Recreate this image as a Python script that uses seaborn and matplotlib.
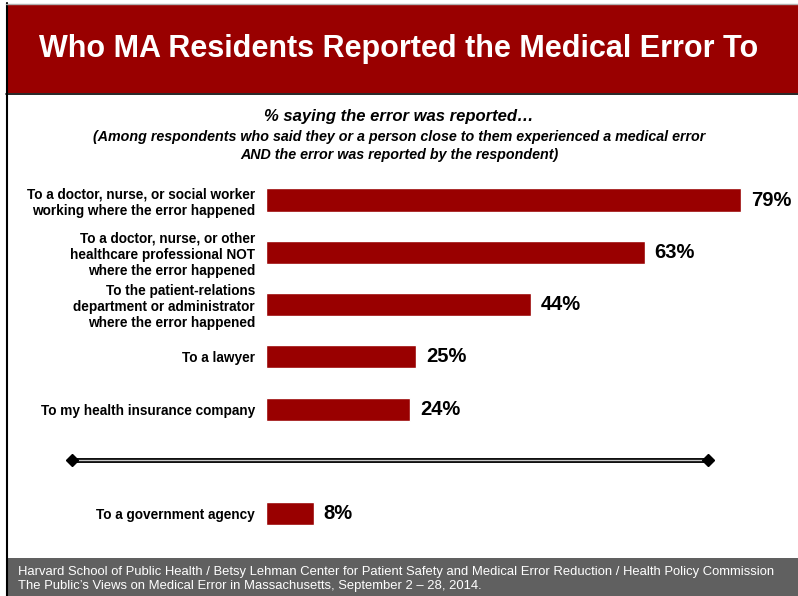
import pandas as pd
import matplotlib
matplotlib.use("Agg")
import matplotlib.pyplot as plt
import seaborn as sns
from matplotlib.patches import Rectangle
from matplotlib.lines import Line2D

sns.set_style("white")
plt.rcParams['font.family'] = ['Liberation Sans', 'DejaVu Sans']
plt.rcParams['text.color'] = 'black'

# data
categories = [
    "To a doctor, nurse, or social worker\nworking where the error happened",
    "To a doctor, nurse, or other\nhealthcare professional NOT\nwhere the error happened",
    "To the patient-relations\ndepartment or administrator\nwhere the error happened",
    "To a lawyer",
    "To my health insurance company",
    "To a government agency",
]
values = [79, 63, 44, 25, 24, 8]
title = "Who MA Residents Reported the Medical Error To"
subtitle = "% saying the error was reported\u2026"
note = ("(Among respondents who said they or a person close to them experienced a medical error\n"
        "AND the error was reported by the respondent)")
footer = ("Harvard School of Public Health / Betsy Lehman Center for Patient Safety and Medical Error Reduction / Health Policy Commission\n"
          "The Public\u2019s Views on Medical Error in Massachusetts, September 2 \u2013 28, 2014.")

RED = "#990000"
W, H = 798, 596

df = pd.DataFrame({"cat": categories, "val": values})
order = categories[:5] + [" "] + categories[5:]

fig = plt.figure(figsize=(W / 100, H / 100), dpi=100)

def fx(px):
    return px / W

def fy(py):
    return 1 - py / H

# title band, footer, frame
fig.patches.append(Rectangle((fx(7), fy(93)), fx(791), 88 / H, transform=fig.transFigure,
                             facecolor=RED, edgecolor="none", zorder=0))
fig.patches.append(Rectangle((fx(7), 0), fx(791), 38 / H, transform=fig.transFigure,
                             facecolor="#606060", edgecolor="none", zorder=0))
fig.lines.append(Line2D([fx(6.5), fx(6.5)], [0, fy(3)], transform=fig.transFigure, color="black", lw=1.5))
fig.lines.append(Line2D([fx(6), fx(798)], [fy(93.5), fy(93.5)], transform=fig.transFigure, color="black", lw=1.2))
fig.lines.append(Line2D([fx(6), fx(798)], [fy(3.5), fy(3.5)], transform=fig.transFigure, color="#b0b0b0", lw=1))

fig.text(0.5, fy(49), title, color="white", fontsize=22, fontweight="bold", ha="center", va="center")
fig.text(0.5, fy(117), subtitle, fontsize=12, fontweight="bold", style="italic", ha="center", va="center")
fig.text(0.5, fy(146), note, fontsize=10.3, fontweight="bold", style="italic", ha="center", va="center",
         linespacing=1.35)
fig.text(fx(18), fy(579), footer, color="white", fontsize=9.4, ha="left", va="center", linespacing=1.2)

# bars: 7 slots (one empty) centred at 200 + 52.3*i px
slot = 52.3
top_px = 200 - slot / 2
bot_px = 200 + slot * 6.5
x_per_pct = (741 - 266) / 79
ax = fig.add_axes([fx(266), fy(bot_px), fx(532), (bot_px - top_px) / H])
sns.barplot(data=df, x="val", y="cat", order=order, color=RED, saturation=1,
            width=0.44, ax=ax)
ax.set_xlim(0, 532 / x_per_pct)
ax.set_ylim(6.5, -0.5)
ax.bar_label(ax.containers[0], fmt="%d%%", padding=7, fontsize=14.5, fontweight="bold", color="black")
ax.set_yticks(range(len(order)))
ax.set_yticklabels(order, fontsize=9.8, fontweight="bold", color="black")
ax.tick_params(axis="y", length=0, pad=8)
ax.set_xticks([])
ax.set_xlabel("")
ax.set_ylabel("")
sns.despine(ax=ax, left=True, bottom=True)

# separator between groups
sep_y = fy(460)
fig.lines.append(Line2D([fx(72), fx(708)], [sep_y, sep_y], transform=fig.transFigure, color="black", lw=3.5))
fig.lines.append(Line2D([fx(72), fx(708)], [sep_y, sep_y], transform=fig.transFigure, color="#c8c8c8", lw=1))
fig.lines.append(Line2D([fx(72), fx(708)], [sep_y, sep_y], transform=fig.transFigure, color="black", lw=0,
                        marker="D", markersize=6, markerfacecolor="black"))

fig.savefig("out.png", dpi=100)
